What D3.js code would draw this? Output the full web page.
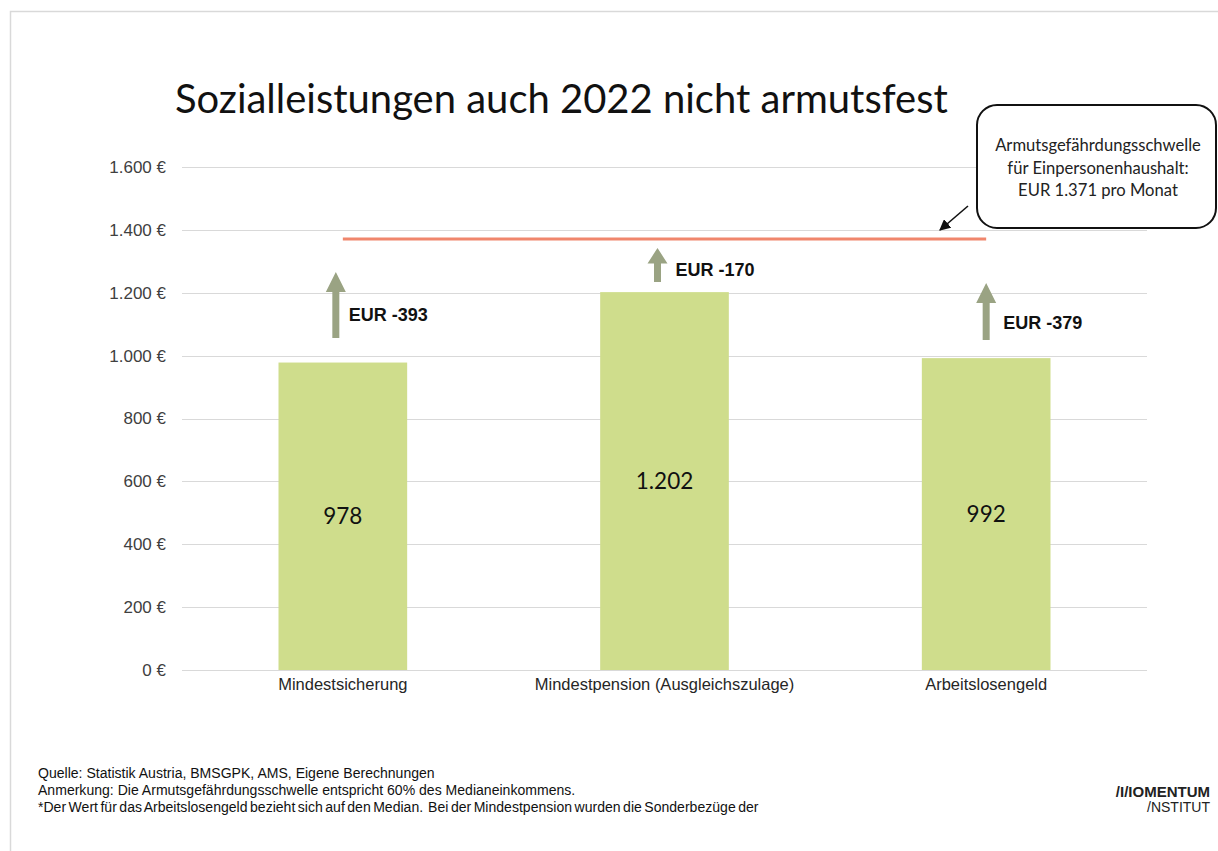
<!DOCTYPE html>
<html><head><meta charset="utf-8">
<script src="https://cdn.jsdelivr.net/npm/d3@7"></script>
<style>
html,body{margin:0;padding:0;background:#fff;}
svg{display:block;}
</style></head>
<body>
<svg id="c" width="1218" height="851"></svg>
<script>
// ---- data ----
const categories = ["Mindestsicherung", "Mindestpension (Ausgleichszulage)", "Arbeitslosengeld"];
const values = [978, 1202, 992];
const valueLabels = ["978", "1.202", "992"];
const threshold = 1371;
const gapLabels = ["EUR -393", "EUR -170", "EUR -379"];
const arrowFrom = [1056, 1234, 1050];
const arrowTo = [1266, 1342, 1231];
const gapLabelAt = [1129, 1272, 1104];
const yTicks = [0, 200, 400, 600, 800, 1000, 1200, 1400, 1600];
const yTickLabels = ["0 €", "200 €", "400 €", "600 €", "800 €", "1.000 €", "1.200 €", "1.400 €", "1.600 €"];
const title = "Sozialleistungen auch 2022 nicht armutsfest";
const calloutLines = ["Armutsgefährdungsschwelle", "für Einpersonenhaushalt:", "EUR 1.371 pro Monat"];
const footerLines = [
  "Quelle: Statistik Austria, BMSGPK, AMS, Eigene Berechnungen",
  "Anmerkung: Die Armutsgefährdungsschwelle entspricht 60% des Medianeinkommens.",
  "*Der Wert für das Arbeitslosengeld bezieht sich auf den Median.  Bei der Mindestpension wurden die Sonderbezüge der"
];

// ---- layout ----
const svg = d3.select("#c");
const geo = "Lato, 'Open Sans', sans-serif";
const sans = "'Liberation Sans', Arial, sans-serif";

svg.append("rect").attr("x", 10.5).attr("y", 11.5).attr("width", 1230).attr("height", 900)
  .attr("fill", "none").attr("stroke", "#d9d9d9").attr("stroke-width", 1.5);

const x = d3.scaleBand().domain(categories).range([182, 1147]).paddingInner(0.6).paddingOuter(0.3);
const y = d3.scaleLinear().domain([0, 1600]).range([670, 167]);

// gridlines
svg.append("g").selectAll("line").data(yTicks).join("line")
  .attr("x1", 182).attr("x2", 1147)
  .attr("y1", d => Math.round(y(d)) + 0.5).attr("y2", d => Math.round(y(d)) + 0.5)
  .attr("stroke", "#d9d9d9").attr("stroke-width", 1.2);

// y axis labels
const yAxis = d3.axisLeft(y).tickValues(yTicks).tickFormat((d, i) => yTickLabels[i]).tickSize(0).tickPadding(0);
const ya = svg.append("g").attr("transform", "translate(166,0)").call(yAxis);
ya.select(".domain").remove();
ya.selectAll("text").attr("font-family", sans).attr("font-size", 17).attr("fill", "#404040");

// x axis labels
const xAxis = d3.axisBottom(x).tickSize(0).tickPadding(0);
const xa = svg.append("g").attr("transform", "translate(0,678)").call(xAxis);
xa.select(".domain").remove();
xa.selectAll("text").attr("font-family", sans).attr("font-size", 16.5).attr("fill", "#262626");

// bars
svg.append("g").selectAll("rect").data(values).join("rect")
  .attr("x", (d, i) => x(categories[i])).attr("width", x.bandwidth())
  .attr("y", d => y(d)).attr("height", d => y(0) - y(d))
  .attr("fill", "#cfdd8c");

// value labels
svg.append("g").selectAll("text").data(values).join("text")
  .attr("x", (d, i) => x(categories[i]) + x.bandwidth() / 2)
  .attr("y", d => (y(d) + y(0)) / 2).attr("dy", "0.35em")
  .attr("text-anchor", "middle").attr("font-family", geo).attr("font-size", 22.5).attr("fill", "#111")
  .text((d, i) => valueLabels[i]);

// threshold line
svg.append("line")
  .attr("x1", x(categories[0]) + x.bandwidth() / 2).attr("x2", x(categories[2]) + x.bandwidth() / 2)
  .attr("y1", y(threshold)).attr("y2", y(threshold))
  .attr("stroke", "#f0866c").attr("stroke-width", 3);

// gap arrows
const arrowDx = [-7, -7, 0];
const labelDx = [6, 11, 17];
const arrowG = svg.append("g");
values.forEach((v, i) => {
  const cx = x(categories[i]) + x.bandwidth() / 2 + arrowDx[i];
  const yb = y(arrowFrom[i]), yt = y(arrowTo[i]);
  const hh = Math.min(20, (yb - yt) * 0.45), hw = 10, sw = 3.5;
  const p = d3.path();
  p.moveTo(cx - sw, yb); p.lineTo(cx - sw, yt + hh); p.lineTo(cx - hw, yt + hh);
  p.lineTo(cx, yt); p.lineTo(cx + hw, yt + hh); p.lineTo(cx + sw, yt + hh); p.lineTo(cx + sw, yb); p.closePath();
  arrowG.append("path").attr("d", p.toString()).attr("fill", "#9aa383");
  arrowG.append("text").attr("x", x(categories[i]) + x.bandwidth() / 2 + labelDx[i])
    .attr("y", y(gapLabelAt[i])).attr("dy", "0.35em")
    .attr("font-family", sans).attr("font-weight", "bold").attr("font-size", 18).attr("fill", "#111")
    .attr("xml:space", "preserve").style("white-space", "pre")
    .text(gapLabels[i]);
});

// title
const t = svg.append("text").attr("x", 175).attr("y", 113)
  .attr("font-family", geo).attr("font-size", 38).attr("fill", "#111").text(title);
const tw = t.node().getComputedTextLength();
t.attr("font-size", 38 * 773 / tw);

// callout
svg.append("rect").attr("x", 977).attr("y", 105).attr("width", 239).attr("height", 123)
  .attr("rx", 20).attr("fill", "#fff").attr("stroke", "#111").attr("stroke-width", 2);
const cg = svg.append("g").attr("transform", "translate(1098,0) scale(0.95,1)");
cg.selectAll("text").data(calloutLines).join("text")
  .attr("x", 0).attr("y", (d, i) => 145 + i * 22.5).attr("dy", "0.35em")
  .attr("text-anchor", "middle").attr("font-family", geo).attr("font-size", 17.5).attr("fill", "#222")
  .text(d => d);

// pointer arrow
svg.append("defs").append("marker").attr("id", "ah").attr("viewBox", "0 0 10 10")
  .attr("refX", 9).attr("refY", 5).attr("markerWidth", 7).attr("markerHeight", 7)
  .attr("orient", "auto-start-reverse").append("path").attr("d", "M0,0L10,5L0,10z").attr("fill", "#111");
svg.append("line").attr("x1", 968).attr("y1", 206).attr("x2", 940).attr("y2", 230)
  .attr("stroke", "#111").attr("stroke-width", 1.6).attr("marker-end", "url(#ah)");

// footer (condensed)
const fg = svg.append("g").attr("transform", "translate(38,0) scale(0.95,1)");
fg.selectAll("text").data(footerLines).join("text")
  .attr("x", 0).attr("y", (d, i) => 778 + i * 17)
  .attr("font-family", sans).attr("font-size", 14.8).attr("fill", "#111")
  .attr("xml:space", "preserve").style("white-space", "pre")
  .attr("word-spacing", (d, i) => i === 2 ? -1.5 : 0)
  .text(d => d);

// logo
svg.append("text").attr("x", 1210).attr("y", 797).attr("text-anchor", "end")
  .attr("font-family", sans).attr("font-weight", "bold").attr("font-size", 15).attr("fill", "#222").text("/I/IOMENTUM");
svg.append("text").attr("x", 1210).attr("y", 812).attr("text-anchor", "end")
  .attr("font-family", sans).attr("font-size", 14).attr("fill", "#222").text("/NSTITUT");
</script>
</body></html>
